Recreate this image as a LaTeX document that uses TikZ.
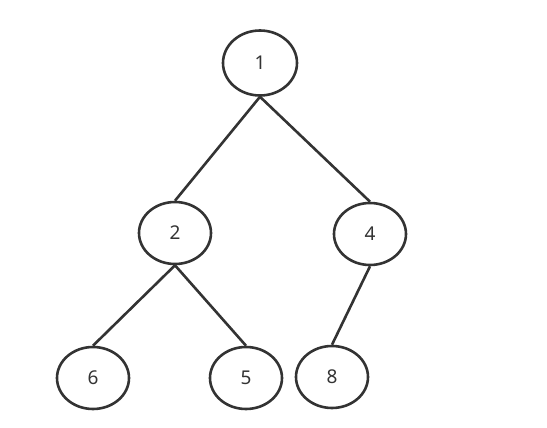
\documentclass[tikz,border=0pt]{standalone}
\usepackage{fontspec}
\setmainfont{Noto Sans}
\usepackage{tikz}
\usetikzlibrary{shapes.geometric}
\definecolor{treeline}{HTML}{333333}
\tikzset{vertex/.style = {ellipse, draw=treeline, line width=2.6pt, minimum width=72pt, minimum height=62pt, inner sep=0pt, text=treeline, font=\fontsize{19}{22}\selectfont}}

\begin{document}
\begin{tikzpicture}[x=1pt, y=-1pt, line width=2.6pt, draw=treeline]
            \useasboundingbox (0,0) rectangle (547,428);

            \node [vertex, minimum width=74pt, minimum height=65pt] (1) at (260, 63)  {1};
            \node [vertex] (2) at (175, 233)  {2};
            \node [vertex] (4) at (370, 234)  {4};

            \node [vertex] (6) at ( 93, 378)  {6};
            \node [vertex] (5) at (246, 378)  {5};
            \node [vertex] (8) at (332, 377)  {8};

            \draw (1.south) -- (2.north);
            \draw (1.south) -- (4.north);
            \draw (2.south) -- (6.north);
            \draw (2.south) -- (5.north);
            \draw (4.south) -- (8.north);
        \end{tikzpicture}
\end{document}
